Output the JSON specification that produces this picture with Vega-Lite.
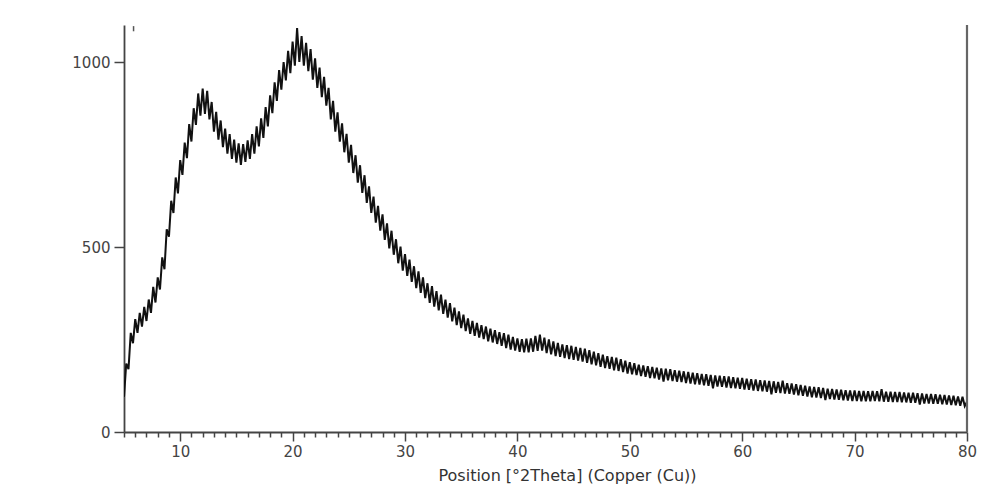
{
  "$schema": "https://vega.github.io/schema/vega-lite/v6.json",
  "width": 843,
  "height": 407,
  "autosize": {"type": "none"},
  "padding": {"left": 124, "top": 25, "right": 17, "bottom": 61},
  "background": "white",
  "config": {"view": {"stroke": null}, "font": "DejaVu Sans"},
  "datasets": {
    "xrd": [
      {"x":5.0,"y":95},{"x":5.2,"y":185},{"x":5.4,"y":170},{"x":5.6,"y":268},{"x":5.8,"y":240},{"x":6.0,"y":305},{"x":6.2,"y":268},{"x":6.4,"y":322},{"x":6.6,"y":285},{"x":6.8,"y":338},
      {"x":7.0,"y":300},{"x":7.2,"y":358},{"x":7.4,"y":322},{"x":7.6,"y":392},{"x":7.8,"y":350},{"x":8.0,"y":418},{"x":8.2,"y":385},{"x":8.4,"y":472},{"x":8.6,"y":440},{"x":8.8,"y":548},
      {"x":9.0,"y":528},{"x":9.2,"y":625},{"x":9.4,"y":592},{"x":9.6,"y":688},{"x":9.8,"y":645},{"x":10.0,"y":735},{"x":10.2,"y":695},{"x":10.4,"y":782},{"x":10.6,"y":740},{"x":10.8,"y":832},
      {"x":11.0,"y":785},{"x":11.2,"y":875},{"x":11.4,"y":830},{"x":11.6,"y":915},{"x":11.8,"y":855},{"x":12.0,"y":928},{"x":12.2,"y":860},{"x":12.4,"y":922},{"x":12.6,"y":845},{"x":12.8,"y":892},
      {"x":13.0,"y":812},{"x":13.2,"y":865},{"x":13.4,"y":790},{"x":13.6,"y":842},{"x":13.8,"y":770},{"x":14.0,"y":820},{"x":14.2,"y":752},{"x":14.4,"y":805},{"x":14.6,"y":738},{"x":14.8,"y":790},
      {"x":15.0,"y":728},{"x":15.2,"y":780},{"x":15.4,"y":722},{"x":15.6,"y":778},{"x":15.8,"y":730},{"x":16.0,"y":788},{"x":16.2,"y":738},{"x":16.4,"y":805},{"x":16.6,"y":752},{"x":16.8,"y":826},
      {"x":17.0,"y":772},{"x":17.2,"y":848},{"x":17.4,"y":795},{"x":17.6,"y":878},{"x":17.8,"y":826},{"x":18.0,"y":910},{"x":18.2,"y":862},{"x":18.4,"y":945},{"x":18.6,"y":895},{"x":18.8,"y":978},
      {"x":19.0,"y":925},{"x":19.2,"y":1000},{"x":19.4,"y":950},{"x":19.6,"y":1030},{"x":19.8,"y":970},{"x":20.0,"y":1055},{"x":20.2,"y":990},{"x":20.4,"y":1092},{"x":20.6,"y":1000},{"x":20.8,"y":1070},
      {"x":21.0,"y":990},{"x":21.2,"y":1052},{"x":21.4,"y":975},{"x":21.6,"y":1035},{"x":21.8,"y":952},{"x":22.0,"y":1010},{"x":22.2,"y":930},{"x":22.4,"y":985},{"x":22.6,"y":905},{"x":22.8,"y":960},
      {"x":23.0,"y":882},{"x":23.2,"y":930},{"x":23.4,"y":845},{"x":23.6,"y":895},{"x":23.8,"y":812},{"x":24.0,"y":864},{"x":24.2,"y":785},{"x":24.4,"y":834},{"x":24.6,"y":756},{"x":24.8,"y":806},
      {"x":25.0,"y":728},{"x":25.2,"y":776},{"x":25.4,"y":700},{"x":25.6,"y":748},{"x":25.8,"y":674},{"x":26.0,"y":721},{"x":26.2,"y":646},{"x":26.4,"y":694},{"x":26.6,"y":619},{"x":26.8,"y":664},
      {"x":27.0,"y":592},{"x":27.2,"y":636},{"x":27.4,"y":566},{"x":27.6,"y":611},{"x":27.8,"y":544},{"x":28.0,"y":588},{"x":28.2,"y":519},{"x":28.4,"y":564},{"x":28.6,"y":496},{"x":28.8,"y":544},
      {"x":29.0,"y":479},{"x":29.2,"y":521},{"x":29.4,"y":456},{"x":29.6,"y":501},{"x":29.8,"y":436},{"x":30.0,"y":481},{"x":30.2,"y":422},{"x":30.4,"y":466},{"x":30.6,"y":406},{"x":30.8,"y":448},
      {"x":31.0,"y":389},{"x":31.2,"y":434},{"x":31.4,"y":376},{"x":31.6,"y":418},{"x":31.8,"y":362},{"x":32.0,"y":402},{"x":32.2,"y":349},{"x":32.4,"y":394},{"x":32.6,"y":339},{"x":32.8,"y":381},
      {"x":33.0,"y":329},{"x":33.2,"y":371},{"x":33.4,"y":319},{"x":33.6,"y":358},{"x":33.8,"y":309},{"x":34.0,"y":348},{"x":34.2,"y":299},{"x":34.4,"y":336},{"x":34.6,"y":289},{"x":34.8,"y":326},
      {"x":35.0,"y":281},{"x":35.2,"y":317},{"x":35.4,"y":273},{"x":35.6,"y":307},{"x":35.8,"y":265},{"x":36.0,"y":300},{"x":36.2,"y":260},{"x":36.4,"y":295},{"x":36.6,"y":255},{"x":36.8,"y":289},
      {"x":37.0,"y":251},{"x":37.2,"y":285},{"x":37.4,"y":245},{"x":37.6,"y":279},{"x":37.8,"y":242},{"x":38.0,"y":275},{"x":38.2,"y":238},{"x":38.4,"y":270},{"x":38.6,"y":233},{"x":38.8,"y":267},
      {"x":39.0,"y":227},{"x":39.2,"y":263},{"x":39.4,"y":223},{"x":39.6,"y":257},{"x":39.8,"y":220},{"x":40.0,"y":253},{"x":40.2,"y":217},{"x":40.4,"y":251},{"x":40.6,"y":215},{"x":40.8,"y":252},
      {"x":41.0,"y":215},{"x":41.2,"y":253},{"x":41.4,"y":217},{"x":41.6,"y":260},{"x":41.8,"y":219},{"x":42.0,"y":263},{"x":42.2,"y":220},{"x":42.4,"y":255},{"x":42.6,"y":213},{"x":42.8,"y":250},
      {"x":43.0,"y":210},{"x":43.2,"y":245},{"x":43.4,"y":205},{"x":43.6,"y":241},{"x":43.8,"y":203},{"x":44.0,"y":237},{"x":44.2,"y":200},{"x":44.4,"y":235},{"x":44.6,"y":197},{"x":44.8,"y":233},
      {"x":45.0,"y":195},{"x":45.2,"y":230},{"x":45.4,"y":193},{"x":45.6,"y":227},{"x":45.8,"y":190},{"x":46.0,"y":225},{"x":46.2,"y":187},{"x":46.4,"y":221},{"x":46.6,"y":183},{"x":46.8,"y":217},
      {"x":47.0,"y":180},{"x":47.2,"y":213},{"x":47.4,"y":176},{"x":47.6,"y":209},{"x":47.8,"y":173},{"x":48.0,"y":205},{"x":48.2,"y":171},{"x":48.4,"y":203},{"x":48.6,"y":167},{"x":48.8,"y":201},
      {"x":49.0,"y":165},{"x":49.2,"y":197},{"x":49.4,"y":162},{"x":49.6,"y":193},{"x":49.8,"y":158},{"x":50.0,"y":189},{"x":50.2,"y":156},{"x":50.4,"y":186},{"x":50.6,"y":154},{"x":50.8,"y":182},
      {"x":51.0,"y":151},{"x":51.2,"y":180},{"x":51.4,"y":149},{"x":51.6,"y":178},{"x":51.8,"y":146},{"x":52.0,"y":176},{"x":52.2,"y":145},{"x":52.4,"y":174},{"x":52.6,"y":142},{"x":52.8,"y":172},
      {"x":53.0,"y":136},{"x":53.2,"y":171},{"x":53.4,"y":140},{"x":53.6,"y":170},{"x":53.8,"y":138},{"x":54.0,"y":167},{"x":54.2,"y":136},{"x":54.4,"y":166},{"x":54.6,"y":135},{"x":54.8,"y":164},
      {"x":55.0,"y":132},{"x":55.2,"y":162},{"x":55.4,"y":131},{"x":55.6,"y":160},{"x":55.8,"y":129},{"x":56.0,"y":159},{"x":56.2,"y":128},{"x":56.4,"y":157},{"x":56.6,"y":126},{"x":56.8,"y":156},
      {"x":57.0,"y":125},{"x":57.2,"y":154},{"x":57.4,"y":118},{"x":57.6,"y":153},{"x":57.8,"y":123},{"x":58.0,"y":152},{"x":58.2,"y":122},{"x":58.4,"y":151},{"x":58.6,"y":120},{"x":58.8,"y":150},
      {"x":59.0,"y":119},{"x":59.2,"y":148},{"x":59.4,"y":118},{"x":59.6,"y":147},{"x":59.8,"y":117},{"x":60.0,"y":146},{"x":60.2,"y":115},{"x":60.4,"y":144},{"x":60.6,"y":114},{"x":60.8,"y":143},
      {"x":61.0,"y":112},{"x":61.2,"y":142},{"x":61.4,"y":111},{"x":61.6,"y":140},{"x":61.8,"y":110},{"x":62.0,"y":139},{"x":62.2,"y":109},{"x":62.4,"y":138},{"x":62.6,"y":102},{"x":62.8,"y":137},
      {"x":63.0,"y":106},{"x":63.2,"y":135},{"x":63.4,"y":105},{"x":63.6,"y":139},{"x":63.8,"y":104},{"x":64.0,"y":132},{"x":64.2,"y":103},{"x":64.4,"y":131},{"x":64.6,"y":101},{"x":64.8,"y":129},
      {"x":65.0,"y":99},{"x":65.2,"y":127},{"x":65.4,"y":98},{"x":65.6,"y":125},{"x":65.8,"y":96},{"x":66.0,"y":123},{"x":66.2,"y":94},{"x":66.4,"y":122},{"x":66.6,"y":93},{"x":66.8,"y":121},
      {"x":67.0,"y":92},{"x":67.2,"y":119},{"x":67.4,"y":86},{"x":67.6,"y":117},{"x":67.8,"y":89},{"x":68.0,"y":116},{"x":68.2,"y":88},{"x":68.4,"y":115},{"x":68.6,"y":87},{"x":68.8,"y":114},
      {"x":69.0,"y":86},{"x":69.2,"y":113},{"x":69.4,"y":85},{"x":69.6,"y":112},{"x":69.8,"y":84},{"x":70.0,"y":112},{"x":70.2,"y":84},{"x":70.4,"y":111},{"x":70.6,"y":83},{"x":70.8,"y":111},
      {"x":71.0,"y":83},{"x":71.2,"y":110},{"x":71.4,"y":83},{"x":71.6,"y":111},{"x":71.8,"y":84},{"x":72.0,"y":110},{"x":72.2,"y":83},{"x":72.4,"y":116},{"x":72.6,"y":82},{"x":72.8,"y":109},
      {"x":73.0,"y":82},{"x":73.2,"y":109},{"x":73.4,"y":81},{"x":73.6,"y":108},{"x":73.8,"y":81},{"x":74.0,"y":108},{"x":74.2,"y":80},{"x":74.4,"y":107},{"x":74.6,"y":80},{"x":74.8,"y":106},
      {"x":75.0,"y":79},{"x":75.2,"y":106},{"x":75.4,"y":79},{"x":75.6,"y":105},{"x":75.8,"y":74},{"x":76.0,"y":104},{"x":76.2,"y":77},{"x":76.4,"y":103},{"x":76.6,"y":77},{"x":76.8,"y":103},
      {"x":77.0,"y":76},{"x":77.2,"y":102},{"x":77.4,"y":76},{"x":77.6,"y":101},{"x":77.8,"y":75},{"x":78.0,"y":100},{"x":78.2,"y":74},{"x":78.4,"y":99},{"x":78.6,"y":73},{"x":78.8,"y":98},
      {"x":79.0,"y":72},{"x":79.2,"y":96},{"x":79.4,"y":71},{"x":79.6,"y":95},{"x":79.8,"y":70},{"x":80.0,"y":82}
    ]
  },
  "layer": [
    {
      "data": {"name": "xrd"},
      "mark": {"type": "line", "color": "#111111", "strokeWidth": 2, "clip": true},
      "encoding": {
        "x": {
          "field": "x", "type": "quantitative",
          "scale": {"domain": [5, 80], "nice": false, "zero": false},
          "axis": {
            "orient": "bottom",
            "values": [10, 20, 30, 40, 50, 60, 70, 80],
            "title": "Position [°2Theta] (Copper (Cu))",
            "titleFontSize": 16, "titleFontWeight": "normal", "titleColor": "#333333",
            "titleX": 443, "titleAlign": "center", "titlePadding": 8,
            "labelFontSize": 15, "labelColor": "#444444", "labelPadding": 3,
            "tickSize": 9, "tickColor": "#444444", "tickWidth": 1.5,
            "domainColor": "#444444", "domainWidth": 1.8,
            "grid": false, "labelFlush": false
          }
        },
        "y": {
          "field": "y", "type": "quantitative",
          "scale": {"domain": [0, 1100], "nice": false},
          "axis": {
            "values": [0, 500, 1000],
            "format": "d",
            "title": null,
            "labelFontSize": 15, "labelColor": "#444444", "labelPadding": 4,
            "tickSize": 10, "tickColor": "#444444", "tickWidth": 1.5,
            "domainColor": "#444444", "domainWidth": 1.8,
            "grid": false
          }
        }
      }
    },
    {
      "data": {"values": [{"x": 80}]},
      "mark": {"type": "rule", "color": "#666666", "strokeWidth": 2.2},
      "encoding": {
        "x": {"field": "x", "type": "quantitative", "axis": {
          "orient": "bottom",
          "values": [5,6,7,8,9,11,12,13,14,15,16,17,18,19,21,22,23,24,25,26,27,28,29,31,32,33,34,35,36,37,38,39,41,42,43,44,45,46,47,48,49,51,52,53,54,55,56,57,58,59,61,62,63,64,65,66,67,68,69,71,72,73,74,75,76,77,78,79],
          "labels": false, "title": null, "domain": false, "grid": false,
          "tickSize": 5, "tickColor": "#444444", "tickWidth": 1.5
        }},
        "y": {"datum": 0, "type": "quantitative"},
        "y2": {"datum": 1100}
      }
    },
    {
      "data": {"values": [{"x": 5.85, "y": 1083, "y2": 1097}]},
      "mark": {"type": "rule", "color": "#555555", "strokeWidth": 1.5},
      "encoding": {
        "x": {"field": "x", "type": "quantitative", "axis": null},
        "y": {"field": "y", "type": "quantitative"},
        "y2": {"field": "y2"}
      }
    }
  ],
  "resolve": {"axis": {"x": "independent"}}
}
